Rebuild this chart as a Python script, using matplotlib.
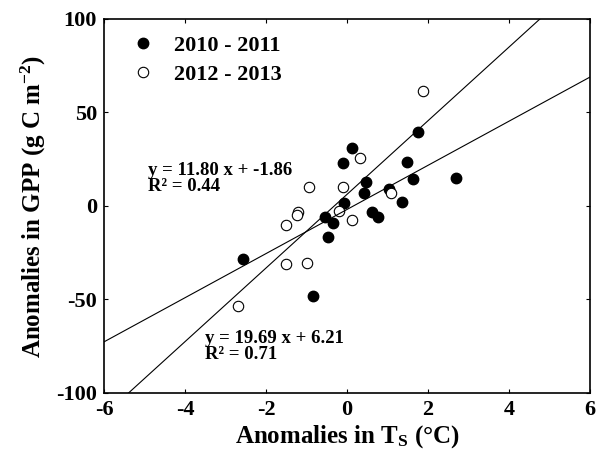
import numpy as np
import matplotlib
matplotlib.use("Agg")
import matplotlib.pyplot as plt

# Temperature / GPP anomalies
ts_1011 = [1.76, 0.12, -0.09, 1.47, 1.64, 2.69, 0.47, 0.42, 1.04, 1.35,
           -0.07, 0.62, 0.77, -0.54, -0.34, -0.46, -2.56, -0.85]
gpp_1011 = [39.7, 30.9, 23.2, 23.7, 14.4, 14.8, 12.7, 7.1, 9.1, 2.3,
            1.4, -3.0, -5.7, -5.7, -9.3, -16.7, -28.5, -48.1]

ts_1213 = [1.88, 0.32, -0.95, -0.09, 1.09, -1.20, -1.24, -0.19, 0.13,
           -1.51, -1.51, -0.98, -2.68]
gpp_1213 = [61.5, 25.8, 10.0, 10.0, 6.8, -3.0, -4.8, -2.5, -7.5,
            -10.3, -31.2, -30.6, -53.5]

# regression fits: slope, intercept, r2
fit_slopes = [11.80, 19.69]
fit_intercepts = [-1.86, 6.21]
fit_r2 = [0.44, 0.71]
fit_label_pos = [(-4.91, 23.5), (-3.51, -66.3)]

plt.rcParams["font.family"] = ["Liberation Serif", "DejaVu Serif"]
plt.rcParams["font.weight"] = "bold"
plt.rcParams["axes.unicode_minus"] = False
plt.rcParams["mathtext.fontset"] = "custom"
plt.rcParams["mathtext.rm"] = "Liberation Serif:bold"
plt.rcParams["mathtext.it"] = "Liberation Serif:bold"
plt.rcParams["mathtext.bf"] = "Liberation Serif:bold"
plt.rcParams["mathtext.default"] = "rm"

fig = plt.figure(figsize=(6.05, 4.63), dpi=100)
ax = fig.add_axes([0.1719, 0.1512, 0.8033, 0.8078])

ax.plot(ts_1011, gpp_1011, "o", color="black", markersize=7.5,
        label="2010 - 2011")
ax.plot(ts_1213, gpp_1213, "o", markerfacecolor="white",
        markeredgecolor="black", markeredgewidth=0.8, markersize=7.5,
        label="2012 - 2013")

xs = np.array([-6.0, 6.0])
for m, b, r2, (tx, ty) in zip(fit_slopes, fit_intercepts, fit_r2,
                              fit_label_pos):
    ax.plot(xs, m * xs + b, color="black", linewidth=0.8)
    ax.text(tx, ty, f"y = {m:.2f} x + {b:.2f}\nR\u00b2 = {r2:.2f}",
            fontsize=13.5, fontweight="bold", va="top", ha="left",
            linespacing=0.95)

ax.set_xlim(-6, 6)
ax.set_ylim(-100, 100)
ax.set_xticks([-6, -4, -2, 0, 2, 4, 6])
ax.set_yticks([-100, -50, 0, 50, 100])
ax.tick_params(direction="in", length=3, width=0.8, labelsize=16,
               top=True, right=True, pad=5)
for s in ax.spines.values():
    s.set_linewidth(1.2)

ax.set_xlabel(r"Anomalies in $\mathrm{T_S}$ (°C)", fontsize=18,
              fontweight="bold", labelpad=2)
ax.set_ylabel(r"Anomalies in GPP (g C m$^{-2}$)", fontsize=18,
              fontweight="bold", labelpad=6)

ax.legend(loc="upper left", bbox_to_anchor=(0.03, 0.987), frameon=False,
          fontsize=16, handletextpad=0.8, labelspacing=0.4,
          handlelength=1.2, borderpad=0)

fig.savefig("out.png", dpi=100)
